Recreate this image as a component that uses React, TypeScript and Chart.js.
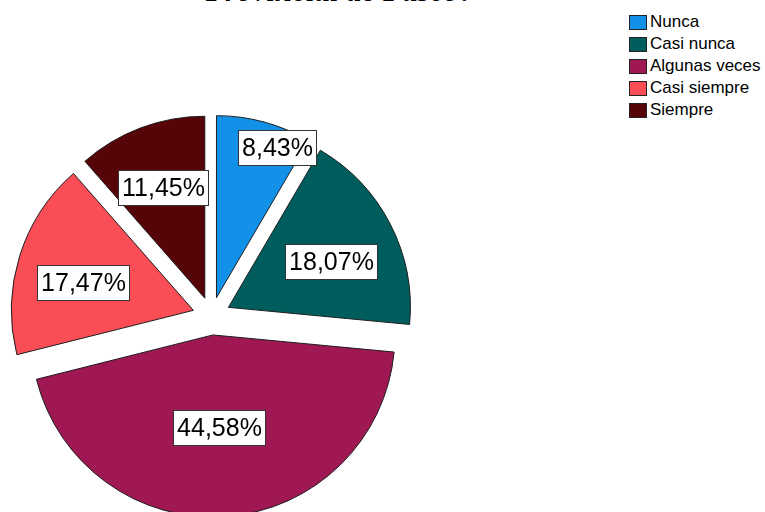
import React, { useEffect, useRef } from "react";
import { Chart, registerables } from "chart.js";

Chart.register(...registerables);

const categories = ["Nunca", "Casi nunca", "Algunas veces", "Casi siempre", "Siempre"];
const percentages = [8.43, 18.07, 44.58, 17.47, 11.45];
const sliceColors = ["#1192e8", "#005d5d", "#9f1853", "#fa4d56", "#570408"];
const titleText = "Provincial de Pasco?";

const EXPLODE = 19;
const PIE_RADIUS = 182;
const LABEL_FONT = '25px "Liberation Sans", Arial, sans-serif';

const explodePlugin = {
  id: "explodeSlices",
  beforeDatasetDraw(chart: any, args: any) {
    const ctx = chart.ctx;
    args.meta.data.forEach((arc: any) => {
      const mid = (arc.startAngle + arc.endAngle) / 2;
      ctx.save();
      ctx.translate(Math.cos(mid) * EXPLODE, Math.sin(mid) * EXPLODE);
      arc.draw(ctx, chart.chartArea);
      ctx.restore();
    });
    return false;
  },
};

const labelPlugin = {
  id: "boxLabels",
  afterDatasetsDraw(chart: any) {
    const ctx = chart.ctx;
    const meta = chart.getDatasetMeta(0);
    const values = chart.data.datasets[0].data;
    meta.data.forEach((arc: any, i: number) => {
      const theta = arc.endAngle - arc.startAngle;
      let mid = (arc.startAngle + arc.endAngle) / 2;
      const R = arc.outerRadius;
      let d = (4 * R * Math.sin(theta / 2)) / (3 * theta);
      if (theta < 0.6) {
        // narrow slice: label pushed outward so the box fits
        d = R * 0.89;
        mid += theta * 0.2;
      }
      const cx = arc.x + Math.cos(mid) * (EXPLODE + d);
      const cy = arc.y + Math.sin(mid) * (EXPLODE + d) + (theta > 1 ? 7 : 0);
      const text = values[i].toFixed(2).replace(".", ",") + "%";
      ctx.save();
      ctx.font = LABEL_FONT;
      const w = Math.round(ctx.measureText(text).width + 7);
      const h = 35;
      const bx = Math.round(cx - w / 2) + 0.5;
      const by = Math.round(cy - h / 2) + 0.5;
      ctx.fillStyle = "#ffffff";
      ctx.fillRect(bx, by, w, h);
      ctx.strokeStyle = "#333333";
      ctx.lineWidth = 1;
      ctx.strokeRect(bx, by, w, h);
      ctx.fillStyle = "#000000";
      ctx.textAlign = "center";
      ctx.textBaseline = "middle";
      ctx.fillText(text, bx + w / 2, by + h / 2 + 1);
      ctx.restore();
    });
  },
};

export default function App() {
  const canvasRef = useRef<HTMLCanvasElement | null>(null);

  useEffect(() => {
    if (!canvasRef.current) return;
    const chart = new Chart(canvasRef.current, {
      type: "pie",
      data: {
        labels: categories,
        datasets: [
          {
            data: percentages,
            backgroundColor: sliceColors,
            borderColor: "#1e1e1e",
            borderWidth: 1,
          },
        ],
      },
      options: {
        animation: false,
        responsive: false,
        devicePixelRatio: 1,
        radius: PIE_RADIUS,
        layout: { padding: 0 },
        plugins: {
          legend: { display: false },
          tooltip: { enabled: false },
          title: { display: false },
        },
        events: [],
      } as any,
      plugins: [explodePlugin, labelPlugin],
    });
    return () => chart.destroy();
  }, []);

  return (
    <div
      style={{
        position: "fixed",
        left: 0,
        top: 0,
        width: 765,
        height: 512,
        overflow: "hidden",
        background: "#ffffff",
      }}
    >
      <div
        style={{
          position: "absolute",
          left: 206,
          top: -25.5,
          fontFamily: '"Liberation Serif", "Times New Roman", serif',
          fontWeight: "bold",
          fontStyle: "italic",
          fontSize: 31,
          lineHeight: "31px",
          whiteSpace: "nowrap",
          color: "#000",
        }}
      >
        {titleText}
      </div>
      <canvas
        ref={canvasRef}
        width={423}
        height={632}
        style={{ position: "absolute", left: 0, top: 0, width: 423, height: 632 }}
      />
      <div style={{ position: "absolute", left: 629, top: 11 }}>
        {categories.map((c, i) => (
          <div
            key={c}
            style={{
              display: "flex",
              alignItems: "center",
              height: 22,
              fontFamily: '"Liberation Sans", Arial, sans-serif',
              fontSize: 17,
              color: "#000",
              whiteSpace: "nowrap",
            }}
          >
            <span
              style={{
                display: "inline-block",
                width: 18,
                height: 15,
                boxSizing: "border-box",
                background: sliceColors[i],
                border: "1px solid #222",
                marginRight: 3,
              }}
            />
            <span>{c}</span>
          </div>
        ))}
      </div>
    </div>
  );
}
